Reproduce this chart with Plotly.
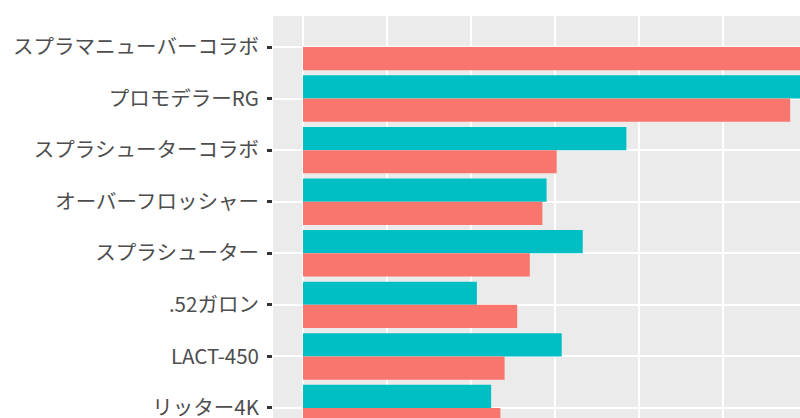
import plotly.graph_objects as go

categories = ["スプラマニューバーコラボ", "プロモデラーRG", "スプラシューターコラボ",
              "オーバーフロッシャー", "スプラシューター", ".52ガロン", "LACT-450", "リッター4K"]
teal_values = [None, 6.6, 3.85, 2.90, 3.33, 2.07, 3.08, 2.24]
red_values = [7.14, 5.80, 3.02, 2.85, 2.70, 2.55, 2.40, 2.35]

TEAL = "#00BFC4"
RED = "#F8766D"

fig = go.Figure()
fig.add_trace(go.Bar(y=categories, x=teal_values, orientation="h",
                     marker=dict(color=TEAL, line=dict(width=0)), name="B"))
fig.add_trace(go.Bar(y=categories, x=red_values, orientation="h",
                     marker=dict(color=RED, line=dict(width=0)), name="A"))

fig.update_layout(
    width=800, height=418,
    margin=dict(l=273, r=0, t=16, b=0, pad=0, autoexpand=False),
    paper_bgcolor="white", plot_bgcolor="#EBEBEB",
    barmode="group", bargap=0.1, bargroupgap=0,
    showlegend=False,
    font=dict(family="Noto Sans CJK JP", color="#4D4D4D"),
)
fig.update_xaxes(range=[-30/84, (800 - 303)/84], dtick=1, tick0=0,
                 showgrid=True, gridcolor="white", gridwidth=1.8,
                 zeroline=False, showticklabels=False, ticks="", showline=False,
                 automargin=False)
fig.update_yaxes(type="category", categoryorder="array", categoryarray=categories,
                 range=[(418 - 47)/51.57, -31/51.57],
                 showgrid=True, gridcolor="white", gridwidth=1.8,
                 ticks="outside", ticklen=5, tickwidth=2.5, tickcolor="#333333",
                 tickfont=dict(size=20.5, color="#4D4D4D", family="Noto Sans CJK JP"),
                 ticklabelstandoff=4, showline=False, zeroline=False,
                 automargin=False)

fig.write_html(
    "out.html",
    config={"displayModeBar": False},
    post_script="document.body.style.margin='0';document.body.style.overflow='hidden';",
)
